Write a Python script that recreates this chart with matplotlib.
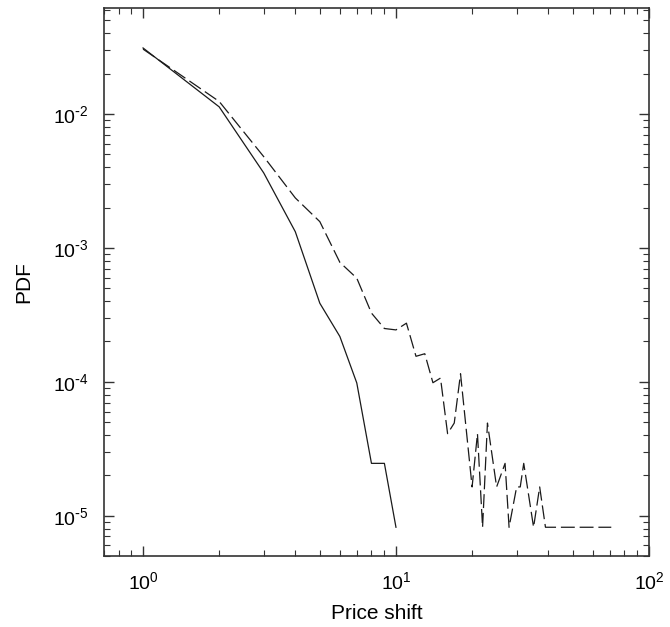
import matplotlib
matplotlib.use('Agg')
import matplotlib.pyplot as plt
from matplotlib.ticker import FuncFormatter
import numpy as np

plt.rcParams['font.family'] = ['Liberation Sans', 'DejaVu Sans']
plt.rcParams['mathtext.default'] = 'regular'
plt.rcParams['lines.scale_dashes'] = False

# solid curve
shift_a = [1, 2, 3, 4, 5, 6, 7, 8, 9, 10]
pdf_a = [0.0311, 0.0113, 0.00363, 0.00132, 3.86e-4, 2.18e-4, 9.8e-5,
         2.46e-5, 2.46e-5, 8.2e-6]

# dashed curve
shift_b = [1, 2, 3, 4, 5, 6, 7, 8, 9, 10, 11, 12, 13, 14, 15, 16, 17, 18,
           20, 21, 22, 23, 25, 27, 28, 30, 31, 32, 35, 37, 39, 71]
pdf_b = [0.0305, 0.0124, 0.0048, 0.00236, 0.00157, 7.8e-4, 5.94e-4,
         3.26e-4, 2.5e-4, 2.44e-4, 2.74e-4, 1.55e-4, 1.62e-4, 9.84e-5,
         1.066e-4, 4.1e-5, 4.92e-5, 1.148e-4, 1.64e-5, 4.1e-5, 8.2e-6,
         4.92e-5, 1.64e-5, 2.46e-5, 8.2e-6, 1.64e-5, 1.64e-5, 2.46e-5,
         8.2e-6, 1.64e-5, 8.2e-6, 8.2e-6]


def pow10(v, pos):
    e = int(round(np.log10(v)))
    if e < 0:
        return r'$10^{\text{-}%d}$' % -e
    return r'$10^{%d}$' % e


fig = plt.figure(figsize=(6.7, 6.27), dpi=100)
ax = fig.add_axes([0.155, 0.1132, 0.8135, 0.874])

ax.plot(shift_a, pdf_a, color='#1a1a1a', lw=0.9)
ax.plot(shift_b, pdf_b, color='#1a1a1a', lw=0.9, ls=(0, (10, 3.5)))

ax.set_xscale('log')
ax.set_yscale('log')
ax.set_xlim(0.70, 100)
ax.set_ylim(5.0e-6, 0.0618)
ax.set_yticks([1e-5, 1e-4, 1e-3, 1e-2])
ax.xaxis.set_major_formatter(FuncFormatter(pow10))
ax.yaxis.set_major_formatter(FuncFormatter(pow10))

ax.tick_params(which='both', direction='in', top=True, right=True,
               labelsize=14, colors='#333333', labelcolor='black')
ax.tick_params(which='major', length=7, width=1)
ax.tick_params(which='minor', length=4, width=0.8)
ax.tick_params(axis='x', pad=11)
ax.tick_params(axis='y', pad=11)
for s in ax.spines.values():
    s.set_color('#333333')
    s.set_linewidth(1.2)

ax.set_xlabel('Price shift', fontsize=15, labelpad=8)
ax.set_ylabel('PDF', fontsize=15, labelpad=14)

fig.savefig('out.png', dpi=100)
